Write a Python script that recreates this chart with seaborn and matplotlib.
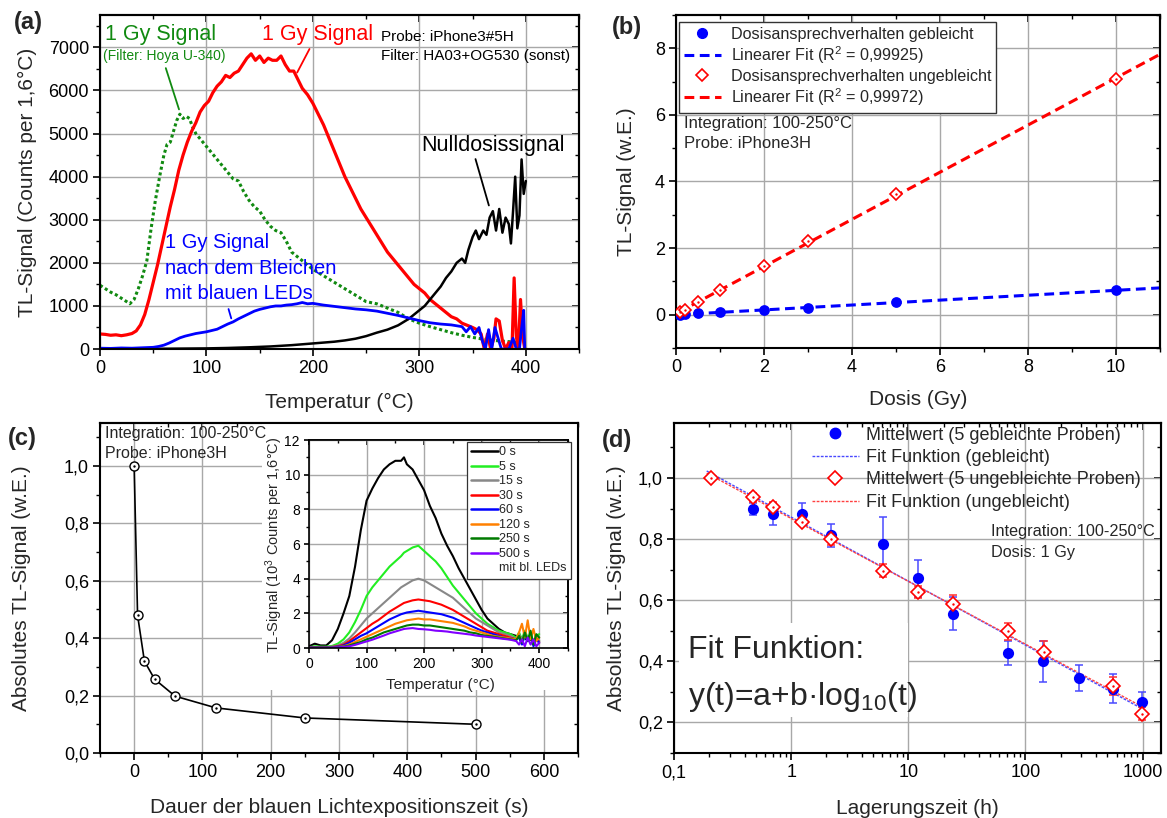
import numpy as np
import pandas as pd
import matplotlib
matplotlib.use("Agg")
import matplotlib.pyplot as plt
import seaborn as sns
from matplotlib.ticker import MultipleLocator, FuncFormatter, FixedLocator, LogLocator, NullFormatter
from matplotlib.lines import Line2D
from matplotlib.patches import Rectangle

# ---------------- data: panel (a) ----------------
a_red_T = [0, 5, 10, 15, 20, 25, 30, 34, 38, 42, 46, 50, 54, 58, 62, 66, 70, 74, 78, 82, 86, 90, 94, 98,
           102, 106, 110, 114, 118, 122, 126, 130, 134, 138, 142, 146, 150, 154, 158, 162, 166, 170, 174,
           178, 182, 186, 190, 195, 200, 205, 210, 215, 220, 225, 230, 235, 240, 245, 250, 255, 260, 265,
           270, 275, 280, 285, 290, 295, 300, 305, 310, 315, 320, 325, 330, 335, 340, 345, 350, 354, 358,
           361, 364, 367, 370, 372, 375, 378, 381, 384, 387, 389, 391, 393, 395, 397, 399]
a_red = [350, 340, 320, 330, 310, 330, 360, 420, 560, 800, 1150, 1550, 1950, 2400, 2850, 3300, 3700, 4150,
         4500, 4800, 5050, 5250, 5500, 5650, 5750, 5950, 6100, 6200, 6350, 6300, 6400, 6450, 6600, 6750,
         6850, 6700, 6800, 6650, 6750, 6700, 6700, 6800, 6600, 6450, 6450, 6250, 6050, 5900, 5700, 5450,
         5200, 4900, 4600, 4300, 4000, 3750, 3500, 3250, 3050, 2850, 2650, 2450, 2250, 2100, 1950, 1800,
         1650, 1500, 1400, 1300, 1150, 1050, 950, 850, 750, 700, 600, 550, 500, 450, 350, 0, 350, 0, 250,
         700, 650, 200, 0, 150, 0, 1650, 300, 0, 1150, 300, 0]

a_green_T = [0, 5, 10, 15, 20, 25, 28, 32, 36, 40, 44, 48, 52, 56, 60, 63, 66, 69, 72, 75, 78, 81, 84, 87,
             90, 95, 100, 105, 110, 115, 120, 125, 130, 135, 140, 145, 150, 155, 160, 165, 170, 175, 180,
             185, 190, 200, 210, 220, 230, 240, 250, 260, 270, 280, 290, 300, 310, 320, 330, 340, 350, 360,
             370, 380, 390, 395]
a_green = [1480, 1400, 1320, 1260, 1180, 1100, 1050, 1150, 1400, 1700, 2050, 2800, 3450, 4000, 4500, 4750,
           4800, 5050, 5300, 5450, 5350, 5400, 5350, 5150, 5000, 4850, 4700, 4550, 4400, 4250, 4100, 3950,
           3900, 3650, 3450, 3300, 3200, 3000, 2850, 2750, 2700, 2500, 2250, 2150, 2050, 1850, 1700, 1550,
           1400, 1250, 1100, 1050, 950, 850, 700, 600, 520, 450, 380, 320, 270, 230, 200, 180, 160, 150]

a_blue_T = [0, 10, 20, 30, 40, 50, 55, 60, 65, 70, 75, 80, 85, 90, 95, 100, 105, 110, 115, 120, 125, 130,
            135, 140, 145, 150, 155, 160, 165, 170, 175, 180, 185, 190, 195, 200, 205, 210, 220, 230, 240,
            250, 260, 270, 280, 290, 300, 310, 320, 330, 340, 344, 348, 352, 356, 359, 362, 365, 368, 371,
            374, 377, 380, 384, 388, 391, 394, 396, 398, 399]
a_blue = [20, 15, 25, 20, 30, 40, 60, 90, 140, 200, 260, 300, 330, 360, 380, 400, 430, 460, 520, 580, 630,
          700, 760, 820, 880, 920, 950, 980, 1000, 1000, 1020, 1030, 1050, 1080, 1050, 1060, 1040, 1020,
          990, 960, 930, 910, 880, 830, 780, 720, 660, 610, 580, 560, 520, 400, 520, 350, 500, 200, 0, 450,
          0, 500, 250, 0, 0, 0, 250, 0, 0, 480, 900, 0]

a_black_T = [0, 50, 100, 120, 140, 160, 180, 190, 200, 210, 220, 230, 240, 250, 260, 270, 280, 290, 295,
             300, 305, 310, 315, 320, 325, 330, 335, 340, 343, 346, 350, 353, 356, 360, 363, 366, 369, 372,
             375, 378, 381, 384, 386, 388, 390, 392, 394, 396, 398, 400]
a_black = [0, 5, 15, 25, 40, 60, 90, 110, 130, 150, 170, 200, 240, 300, 380, 450, 550, 700, 800, 900, 1000,
           1150, 1300, 1450, 1650, 1800, 2000, 2100, 2000, 2300, 2600, 2750, 2550, 2750, 2650, 3050, 3200,
           2750, 3250, 2700, 3050, 2900, 2450, 3200, 4000, 2800, 3100, 4400, 3600, 3900]

# ---------------- data: panel (b) ----------------
b_dose = [0.1, 0.2, 0.5, 1, 2, 3, 5, 10]
b_bleached = [0.0, 0.01, 0.04, 0.07, 0.14, 0.21, 0.37, 0.73]
b_unbleached = [0.07, 0.15, 0.37, 0.73, 1.47, 2.20, 3.62, 7.07]

# ---------------- data: panel (c) ----------------
c_time = [0, 5, 15, 30, 60, 120, 250, 500]
c_signal = [1.0, 0.48, 0.32, 0.257, 0.198, 0.157, 0.122, 0.10]

inset_T = [0, 10, 20, 30, 40, 50, 60, 70, 80, 90, 100, 110, 120, 130, 140, 150, 160, 165, 170, 180, 190,
           200, 210, 220, 230, 240, 250, 260, 270, 280, 290, 300, 310, 320, 330, 340, 350, 360, 365, 370,
           375, 380, 385, 390, 395, 400]
inset_labels = ["0 s", "5 s", "15 s", "30 s", "60 s", "120 s", "250 s", "500 s"]
inset_0s = [0.1, 0.25, 0.15, 0.15, 0.45, 1.1, 2.0, 3.0, 4.7, 6.8, 8.5, 9.2, 9.8, 10.3, 10.6, 10.8, 10.8, 11.0,
            10.6, 10.3, 9.7, 9.1, 8.2, 7.5, 6.6, 5.9, 5.3, 4.6, 4.0, 3.4, 2.8, 2.2, 1.7, 1.4, 1.1, 0.9, 0.8,
            0.7, 0.6, 0.5, 0.6, 0.4, 0.5, 0.3, 0.5, 0.4]
inset_5s = [0.05, 0.1, 0.08, 0.08, 0.12, 0.25, 0.5, 0.9, 1.5, 2.2, 3.0, 3.5, 3.9, 4.3, 4.7, 5.0, 5.3, 5.5,
            5.6, 5.8, 5.9, 5.6, 5.3, 5.0, 4.6, 4.1, 3.6, 3.2, 2.8, 2.4, 2.0, 1.7, 1.4, 1.2, 1.0, 0.9, 0.8,
            0.6, 0.9, 0.5, 1.0, 0.6, 0.8, 0.3, 0.7, 0.8]
inset_15s = [0.03, 0.05, 0.05, 0.05, 0.08, 0.15, 0.3, 0.55, 0.9, 1.3, 1.7, 2.0, 2.3, 2.6, 2.9, 3.2, 3.5, 3.6,
             3.7, 3.9, 4.0, 3.9, 3.7, 3.5, 3.3, 3.1, 2.9, 2.6, 2.3, 2.0, 1.7, 1.5, 1.3, 1.1, 0.9, 0.8, 0.7,
             0.5, 0.8, 0.4, 0.9, 0.5, 0.6, 0.3, 0.5, 0.4]
inset_30s = [0.03, 0.05, 0.05, 0.05, 0.06, 0.1, 0.2, 0.4, 0.65, 0.9, 1.15, 1.4, 1.6, 1.85, 2.1, 2.3, 2.5,
             2.6, 2.65, 2.75, 2.8, 2.75, 2.7, 2.6, 2.5, 2.35, 2.2, 2.0, 1.8, 1.6, 1.4, 1.2, 1.0, 0.9, 0.8,
             0.7, 0.6, 0.5, 0.7, 0.3, 0.8, 0.5, 0.7, 0.2, 0.6, 0.3]
inset_60s = [0.03, 0.04, 0.04, 0.04, 0.05, 0.08, 0.15, 0.3, 0.5, 0.7, 0.85, 1.05, 1.25, 1.45, 1.65, 1.8,
             1.95, 2.0, 2.05, 2.1, 2.15, 2.1, 2.05, 2.0, 1.95, 1.85, 1.75, 1.6, 1.45, 1.3, 1.15, 1.0, 0.9,
             0.8, 0.7, 0.6, 0.55, 0.5, 0.6, 0.2, 0.7, 0.4, 0.8, 0.1, 0.5, 0.3]
inset_120s = [0.02, 0.03, 0.03, 0.03, 0.04, 0.06, 0.1, 0.2, 0.35, 0.5, 0.65, 0.8, 0.95, 1.1, 1.25, 1.4,
              1.5, 1.55, 1.6, 1.65, 1.7, 1.65, 1.65, 1.6, 1.55, 1.5, 1.45, 1.35, 1.25, 1.1, 1.0, 0.9, 0.8,
              0.7, 0.65, 0.6, 0.55, 0.5, 0.9, 1.4, 0.6, 1.6, 0.5, 1.1, 0.4, 0.6]
inset_250s = [0.02, 0.03, 0.03, 0.03, 0.03, 0.05, 0.08, 0.15, 0.25, 0.35, 0.5, 0.6, 0.75, 0.9, 1.0, 1.1,
              1.2, 1.25, 1.3, 1.35, 1.35, 1.3, 1.3, 1.25, 1.2, 1.15, 1.1, 1.05, 1.0, 0.9, 0.85, 0.75, 0.7,
              0.65, 0.6, 0.55, 0.5, 0.45, 0.7, 0.3, 0.9, 0.4, 1.0, 0.2, 0.8, 0.6]
inset_500s = [0.02, 0.02, 0.02, 0.02, 0.03, 0.04, 0.06, 0.1, 0.18, 0.28, 0.38, 0.48, 0.6, 0.72, 0.85, 0.95,
              1.05, 1.1, 1.12, 1.15, 1.1, 1.08, 1.05, 1.0, 0.98, 0.95, 0.9, 0.86, 0.82, 0.78, 0.72, 0.68,
              0.64, 0.6, 0.56, 0.52, 0.48, 0.4, 0.2, 0.5, 0.1, 0.6, 0.2, 0.5, 0.1, 0.3]
inset_colors = ["#000000", "#22ee22", "#888888", "#ff0000", "#0000ff", "#ff8000", "#007a00", "#8000ff"]

# ---------------- data: panel (d) ----------------
d_t_bl = [0.47, 0.70, 1.23, 2.17, 6.1, 12.1, 23.9, 71.6, 142, 285, 565, 985]
d_bl = [0.898, 0.883, 0.883, 0.812, 0.785, 0.672, 0.556, 0.428, 0.40, 0.346, 0.311, 0.266]
d_bl_err = [0.02, 0.036, 0.035, 0.037, 0.088, 0.06, 0.054, 0.04, 0.068, 0.042, 0.047, 0.033]
d_t_un = [0.206, 0.47, 0.70, 1.23, 2.17, 6.1, 12.1, 24.2, 71.6, 145, 565, 985]
d_un = [1.0, 0.937, 0.906, 0.857, 0.80, 0.697, 0.627, 0.587, 0.498, 0.43, 0.319, 0.229]
d_un_err = [0.0, 0.015, 0.015, 0.012, 0.02, 0.02, 0.02, 0.03, 0.028, 0.037, 0.03, 0.02]

# ---------------- style ----------------
sns.set_theme(style="white")
plt.rcParams["font.family"] = ["Liberation Sans", "DejaVu Sans"]
plt.rcParams["mathtext.fontset"] = "custom"
plt.rcParams["mathtext.rm"] = "Liberation Sans"
plt.rcParams["mathtext.it"] = "Liberation Sans:italic"
plt.rcParams["mathtext.bf"] = "Liberation Sans:bold"
plt.rcParams["axes.unicode_minus"] = False

GRID = "#a8a8a8"
TICK = 13
LAB = 15
comma = FuncFormatter(lambda v, p: f"{v:.1f}".replace(".", ","))


def style(ax, xmaj, xmin, ymaj, ymin, lab=TICK, spw=1.5, tl=5, logx=False, mirror=True):
    for s in ax.spines.values():
        s.set_visible(True)
        s.set_color("black")
        s.set_linewidth(spw)
    if logx:
        ax.xaxis.set_major_locator(FixedLocator([0.1, 1, 10, 100, 1000]))
        ax.xaxis.set_minor_locator(LogLocator(base=10, subs=np.arange(2, 10) * 1.0, numticks=30))
        ax.xaxis.set_minor_formatter(NullFormatter())
    else:
        ax.xaxis.set_major_locator(MultipleLocator(xmaj))
        ax.xaxis.set_minor_locator(MultipleLocator(xmin))
    ax.yaxis.set_major_locator(MultipleLocator(ymaj))
    ax.yaxis.set_minor_locator(MultipleLocator(ymin))
    ax.tick_params(which="major", direction="out", length=tl, width=1.2, colors="black", labelsize=lab,
                   bottom=True, left=True, top=False, right=False, pad=3)
    ax.tick_params(which="minor", direction="out", length=tl * 0.6, width=1.0, colors="black",
                   bottom=True, left=True, top=False, right=False)
    ax.grid(True, which="major", color=GRID, lw=1.0)
    ax.set_axisbelow(True)
    if mirror:
        sx = ax.secondary_xaxis("top")
        sy = ax.secondary_yaxis("right")
        if logx:
            sx.xaxis.set_major_locator(FixedLocator([0.1, 1, 10, 100, 1000]))
            sx.xaxis.set_minor_locator(LogLocator(base=10, subs=np.arange(2, 10) * 1.0, numticks=30))
        else:
            sx.xaxis.set_major_locator(MultipleLocator(xmaj))
            sx.xaxis.set_minor_locator(MultipleLocator(xmin))
        sy.yaxis.set_major_locator(MultipleLocator(ymaj))
        sy.yaxis.set_minor_locator(MultipleLocator(ymin))
        sx.tick_params(axis="x", which="major", direction="in", length=tl, width=1.2, colors="black",
                       top=True, bottom=False, labeltop=False, labelbottom=False)
        sx.tick_params(axis="x", which="minor", direction="in", length=tl * 0.6, width=1.0, colors="black",
                       top=True, bottom=False, labeltop=False)
        sy.tick_params(axis="y", which="major", direction="in", length=tl, width=1.2, colors="black",
                       right=True, left=False, labelright=False, labelleft=False)
        sy.tick_params(axis="y", which="minor", direction="in", length=tl * 0.6, width=1.0, colors="black",
                       right=True, left=False, labelright=False)
        for s in list(sx.spines.values()) + list(sy.spines.values()):
            s.set_linewidth(spw)
            s.set_color("black")


def labels(ax, xl, yl, xpos, ypos, size=LAB):
    ax.set_xlabel(xl, fontsize=size)
    ax.set_ylabel(yl, fontsize=size)
    ax.xaxis.set_label_coords(0.5, xpos)
    ax.yaxis.set_label_coords(ypos, 0.5)
    ax.xaxis.label.set_va("center")
    ax.yaxis.label.set_va("center")


fig = plt.figure(figsize=(11.67, 8.18), dpi=100)
fig.patch.set_facecolor("white")

# ================= (a) =================
axA = fig.add_axes([0.0857, 0.5733, 0.4105, 0.4083])
GREEN_A = "#118a11"
sns.lineplot(x=a_green_T, y=a_green, ax=axA, color=GREEN_A, lw=2.2, linestyle=(0, (1, 0.9)))
sns.lineplot(x=a_red_T, y=a_red, ax=axA, color="#ff0000", lw=2.3)
sns.lineplot(x=a_black_T, y=a_black, ax=axA, color="black", lw=1.8)
sns.lineplot(x=a_blue_T, y=a_blue, ax=axA, color="#0000ff", lw=2.0)
axA.set_xlim(0, 450)
axA.set_ylim(0, 7750)
style(axA, 100, 50, 1000, 500)
labels(axA, "Temperatur (°C)", "TL-Signal (Counts per 1,6°C)", -0.159, -0.152)

axA.text(5, 7300, "1 Gy Signal", color=GREEN_A, fontsize=15.5, va="center")
axA.text(3, 6800, "(Filter: Hoya U-340)", color=GREEN_A, fontsize=10, va="center")
axA.text(152, 7300, "1 Gy Signal", color="#ff0000", fontsize=15.5, va="center")
axA.text(264, 7250, "Probe: iPhone3#5H", color="black", fontsize=11, va="center")
axA.text(264, 6790, "Filter: HA03+OG530 (sonst)", color="black", fontsize=11, va="center")
axA.text(302, 4730, "Nulldosissignal", color="black", fontsize=15.5, va="center")
axA.text(61, 2470, "1 Gy Signal", color="#0000ff", fontsize=14.5, va="center")
axA.text(61, 1880, "nach dem Bleichen", color="#0000ff", fontsize=14.5, va="center")
axA.text(61, 1300, "mit blauen LEDs", color="#0000ff", fontsize=14.5, va="center")
axA.annotate("", xy=(75, 5500), xytext=(61, 6580), arrowprops=dict(arrowstyle="-", color=GREEN_A, lw=1.3))
axA.annotate("", xy=(184, 6360), xytext=(198, 7020), arrowprops=dict(arrowstyle="-", color="#ff0000", lw=1.3))
axA.annotate("", xy=(366, 3270), xytext=(352, 4470), arrowprops=dict(arrowstyle="-", color="black", lw=1.3))
axA.annotate("", xy=(124, 650), xytext=(120, 990), arrowprops=dict(arrowstyle="-", color="#0000ff", lw=1.3))

# ================= (b) =================
axB = fig.add_axes([0.5793, 0.5746, 0.4147, 0.4071])
xs = np.array([0.05, 11.0])
pb = np.polyfit(b_dose, b_bleached, 1)
pu = np.polyfit(b_dose, b_unbleached, 1)
sns.lineplot(x=xs, y=np.polyval(pb, xs), ax=axB, color="#0000ff", lw=2.2, linestyle=(0, (3.2, 1.8)))
sns.lineplot(x=xs, y=np.polyval(pu, xs), ax=axB, color="#ff0000", lw=2.2, linestyle=(0, (3.2, 1.8)))
sns.scatterplot(x=b_dose, y=b_bleached, ax=axB, color="#0000ff", s=60, edgecolor="#0000ff", linewidth=0, zorder=5)
sns.lineplot(x=b_dose, y=b_unbleached, ax=axB, color="#ff0000", marker="D", markersize=6.5,
             markerfacecolor="white", markeredgecolor="#ff0000", markeredgewidth=1.2, linestyle="none", zorder=5)
sns.scatterplot(x=b_dose, y=b_unbleached, ax=axB, color="#ff0000", s=3, linewidth=0, zorder=6)
axB.set_xlim(0, 11)
axB.set_ylim(-1, 9)
style(axB, 2, 1, 2, 1)
labels(axB, "Dosis (Gy)", "TL-Signal (w.E.)", -0.156, -0.103)
hB = [Line2D([], [], marker="o", color="#0000ff", ls="none", ms=7),
      Line2D([], [], color="#0000ff", lw=2.2, ls=(0, (3.2, 1.8))),
      Line2D([], [], marker="D", mfc="white", mec="#ff0000", mew=1.2, ls="none", ms=6.5),
      Line2D([], [], color="#ff0000", lw=2.2, ls=(0, (3.2, 1.8)))]
lB = ["Dosisansprechverhalten gebleicht", "Linearer Fit (R$^2$ = 0,99925)",
      "Dosisansprechverhalten ungebleicht", "Linearer Fit (R$^2$ = 0,99972)"]
legB = axB.legend(hB, lB, loc="upper left", bbox_to_anchor=(0.006, 0.979), borderaxespad=0, fontsize=11.6,
                  frameon=True, fancybox=False, framealpha=1, edgecolor="#333333", handlelength=2.3,
                  handletextpad=0.6, labelspacing=0.16, borderpad=0.3)
legB.get_frame().set_linewidth(1.0)
axB.text(0.017, 0.673, "Integration: 100-250°C", transform=axB.transAxes, fontsize=12, va="center")
axB.text(0.017, 0.613, "Probe: iPhone3H", transform=axB.transAxes, fontsize=12, va="center")

# ================= (c) =================
axC = fig.add_axes([0.0857, 0.0795, 0.4096, 0.4034])
axC.set_xlim(-50, 650)
axC.set_ylim(0, 1.15)
style(axC, 100, 50, 0.2, 0.1)
axC.yaxis.set_major_formatter(comma)
labels(axC, "Dauer der blauen Lichtexpositionszeit (s)", "Absolutes TL-Signal (w.E.)", -0.164, -0.165)
axC.add_patch(Rectangle((0.2245, 0.1565), 0.2708, 0.3264, transform=fig.transFigure, facecolor="white",
                        edgecolor="none", zorder=1))
sns.lineplot(x=c_time, y=c_signal, ax=axC, color="black", lw=1.2, marker="o", markersize=6.5,
             markerfacecolor="white", markeredgecolor="black", markeredgewidth=1.0, zorder=4)
sns.scatterplot(x=c_time, y=c_signal, ax=axC, color="black", s=3, linewidth=0, zorder=6)
axC.text(0.01, 0.967, "Integration: 100-250°C", transform=axC.transAxes, fontsize=11.5, va="center")
axC.text(0.01, 0.909, "Probe: iPhone3H", transform=axC.transAxes, fontsize=11.5, va="center")

# inset
axI = fig.add_axes([0.2648, 0.2078, 0.2219, 0.2543], zorder=5)
axI.set_facecolor("white")
series = [inset_0s, inset_5s, inset_15s, inset_30s, inset_60s, inset_120s, inset_250s, inset_500s]
for vals, col in zip(series, inset_colors):
    sns.lineplot(x=inset_T, y=vals, ax=axI, color=col, lw=1.5)
axI.set_xlim(0, 450)
axI.set_ylim(0, 12)
style(axI, 100, 50, 2, 1, lab=10, spw=1.2, tl=3.5)
axI.set_xlabel("Temperatur (°C)", fontsize=11)
axI.set_ylabel("TL-Signal (10$^3$ Counts per 1,6°C)", fontsize=10.5)
axI.xaxis.set_label_coords(0.506, -0.178)
axI.yaxis.set_label_coords(-0.135, 0.495)
axI.xaxis.label.set_va("center")
axI.yaxis.label.set_va("center")
hI = [Line2D([], [], color=c, lw=1.8) for c in inset_colors] + [Line2D([], [], color="none")]
lI = inset_labels + ["mit bl. LEDs"]
legI = axI.legend(hI, lI, loc="upper left", bbox_to_anchor=(0.61, 0.99), borderaxespad=0, fontsize=9,
                  frameon=True, fancybox=False, framealpha=1, edgecolor="#333333", handlelength=2.1,
                  handletextpad=0.15, labelspacing=0.2, borderpad=0.35)
legI.get_frame().set_linewidth(0.9)

# ================= (d) =================
axD = fig.add_axes([0.5776, 0.0795, 0.4173, 0.4034])
axD.set_xscale("log")
axD.set_xlim(0.1, 1440)
axD.set_ylim(0.1, 1.18)
style(axD, None, None, 0.2, 0.1, logx=True)
axD.xaxis.set_major_formatter(FuncFormatter(lambda v, p: {0.1: "0,1", 1: "1", 10: "10", 100: "100", 1000: "1000"}.get(round(v, 3), "")))
axD.yaxis.set_major_formatter(comma)
labels(axD, "Lagerungszeit (h)", "Absolutes TL-Signal (w.E.)", -0.167, -0.119)
axD.add_patch(Rectangle((0.582, 0.123), 0.196, 0.115, transform=fig.transFigure, facecolor="white",
                        edgecolor="none", zorder=1))
tfit = np.logspace(np.log10(0.19), np.log10(1000), 60)
fb = np.polyfit(np.log10(d_t_bl), d_bl, 1)
fu = np.polyfit(np.log10(d_t_un), d_un, 1)
sns.lineplot(x=tfit, y=np.polyval(fb, np.log10(tfit)), ax=axD, color="#4848ff", lw=1.0, linestyle=(0, (2, 1)), zorder=3)
sns.lineplot(x=tfit, y=np.polyval(fu, np.log10(tfit)), ax=axD, color="#ff4040", lw=1.0, linestyle=(0, (2, 1)), zorder=3)
axD.errorbar(d_t_bl, d_bl, yerr=d_bl_err, fmt="none", ecolor="#4a4aff", elinewidth=1.1, capsize=3, capthick=1.1, zorder=4)
axD.errorbar(d_t_un, d_un, yerr=d_un_err, fmt="none", ecolor="#ff3030", elinewidth=1.1, capsize=3, capthick=1.1, zorder=4)
sns.scatterplot(x=d_t_bl, y=d_bl, ax=axD, color="#0000ff", s=65, linewidth=0, zorder=5)
sns.lineplot(x=d_t_un, y=d_un, ax=axD, color="#ff0000", marker="D", markersize=7,
             markerfacecolor="white", markeredgecolor="#ff0000", markeredgewidth=1.2, linestyle="none", zorder=6)
sns.scatterplot(x=d_t_un, y=d_un, ax=axD, color="#ff0000", s=3, linewidth=0, zorder=7)
hD = [Line2D([], [], marker="o", color="#0000ff", ls="none", ms=7.5),
      Line2D([], [], color="#4848ff", lw=1.0, ls=(0, (2, 1))),
      Line2D([], [], marker="D", mfc="white", mec="#ff0000", mew=1.2, ls="none", ms=7),
      Line2D([], [], color="#ff4040", lw=1.0, ls=(0, (2, 1)))]
lD = ["Mittelwert (5 gebleichte Proben)", "Fit Funktion (gebleicht)",
      "Mittelwert (5 ungebleichte Proben)", "Fit Funktion (ungebleicht)"]
axD.legend(hD, lD, loc="upper left", bbox_to_anchor=(0.275, 1.0), borderaxespad=0, fontsize=13,
           frameon=False, handlelength=2.6, handletextpad=0.4, labelspacing=0.3, borderpad=0.2)
axD.text(0.651, 0.670, "Integration: 100-250°C", transform=axD.transAxes, fontsize=11.7, va="center")
axD.text(0.651, 0.609, "Dosis: 1 Gy", transform=axD.transAxes, fontsize=11.7, va="center")
axD.text(0.029, 0.288, "Fit Funktion:", transform=axD.transAxes, fontsize=23, va="baseline", zorder=8)
axD.text(0.029, 0.145, "y(t)=a+b·log$_{10}$(t)", transform=axD.transAxes, fontsize=23, va="baseline", zorder=8)

# panel letters
for lbl, x, y in [("(a)", 0.012, 0.972), ("(b)", 0.524, 0.966), ("(c)", 0.007, 0.464), ("(d)", 0.516, 0.462)]:
    fig.text(x, y, lbl, fontsize=17, fontweight="bold", va="center", ha="left")

fig.savefig("out.png", dpi=100, facecolor="white")
